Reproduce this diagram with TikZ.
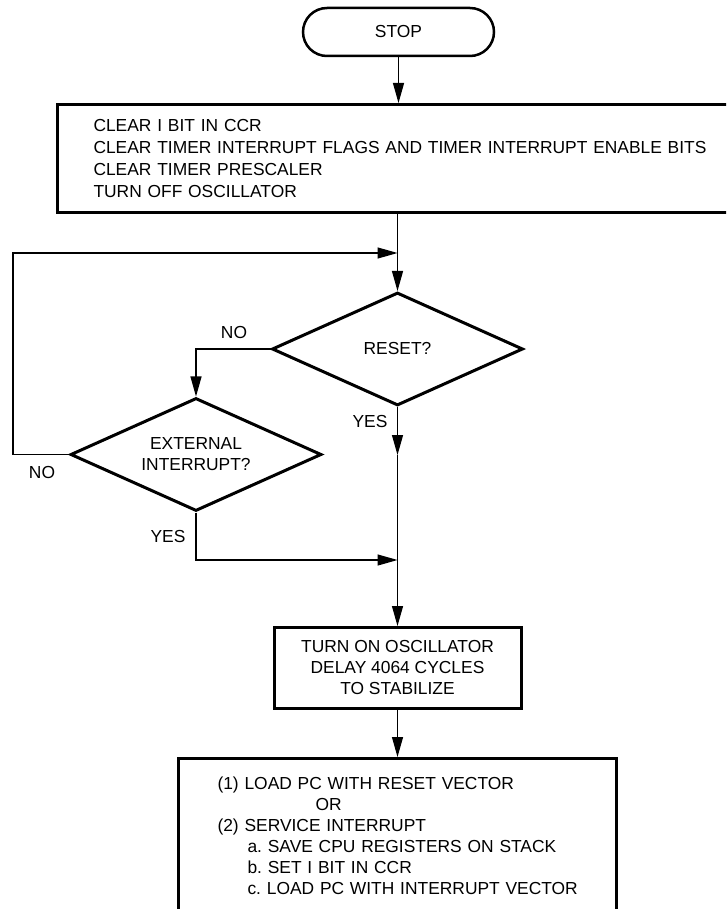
\documentclass[tikz,border=0pt]{standalone}
\usepackage{fontspec}
\setmainfont{Liberation Sans}
\usetikzlibrary{shapes.geometric,arrows.meta}
\frenchspacing

\begin{document}
\begin{tikzpicture}[x=1pt,y=-1pt,
  every node/.style={font=\fontsize{17.4}{21}\selectfont},
  terminal/.style={draw,line width=2.5pt,rounded corners=24pt,minimum width=191pt,minimum height=48pt},
  box/.style={draw,line width=3pt},
  decision/.style={draw,diamond,line width=3pt,shape aspect=2.2,inner sep=2pt,minimum width=251pt,minimum height=113pt,align=center},
  flow/.style={line width=1.2pt,-{Triangle[length=20pt,width=11pt]}}]
\useasboundingbox (0,0) rectangle (726,909);
\clip (0,0) rectangle (726,909);

\node[terminal] (stop) at (398.5,32) {STOP};
\node[box,align=left,text width=620pt,inner xsep=36pt,minimum height=108pt,font=\fontsize{17.4}{21.7}\selectfont] (clear) at (403.5,158.5) {CLEAR I BIT IN CCR\\CLEAR TIMER INTERRUPT FLAGS AND TIMER INTERRUPT ENABLE BITS\\CLEAR TIMER PRESCALER\\TURN OFF OSCILLATOR};
\node[decision] (reset) at (397.5,349) {RESET?};
\node[decision] (ext) at (196,454.5) {EXTERNAL\\INTERRUPT?};
\node[box,align=center,minimum width=247pt,minimum height=81pt] (osc) at (397.5,668) {TURN ON OSCILLATOR\\DELAY 4064 CYCLES\\TO STABILIZE};
\node[box,anchor=north,align=left,text width=360pt,inner xsep=39pt,inner ysep=18pt] (serve) at (397.5,757) {(1) LOAD PC WITH RESET VECTOR\\\hspace*{98pt}OR\\(2) SERVICE INTERRUPT\\\hspace*{30pt}a. SAVE CPU REGISTERS ON STACK\\\hspace*{30pt}b. SET I BIT IN CCR\\\hspace*{30pt}\mbox{c. LOAD PC WITH INTERRUPT VECTOR}};

\node (noreset) at (234,333) {NO};
\node (noext) at (42,473) {NO};
\node (yesreset) at (370,422) {YES};
\node (yesext) at (168,537) {YES};

\coordinate (loopin) at (397.5,253);
\coordinate (yesin) at (397.5,455);
\coordinate (merge) at (397.5,560);

\draw[flow] (stop) -- (stop |- clear.north);
\draw[flow] (reset |- clear.south) -- (reset);
\draw[flow] (reset.west) -| (ext);
\draw[flow] (ext.west) -- ++(-56,0) |- (loopin);
\draw[flow] (reset) -- (yesin);
\draw[flow] (yesin) -- (osc);
\draw[flow] (ext) |- (merge);
\draw[flow] (osc) -- (serve);
\end{tikzpicture}
\end{document}
